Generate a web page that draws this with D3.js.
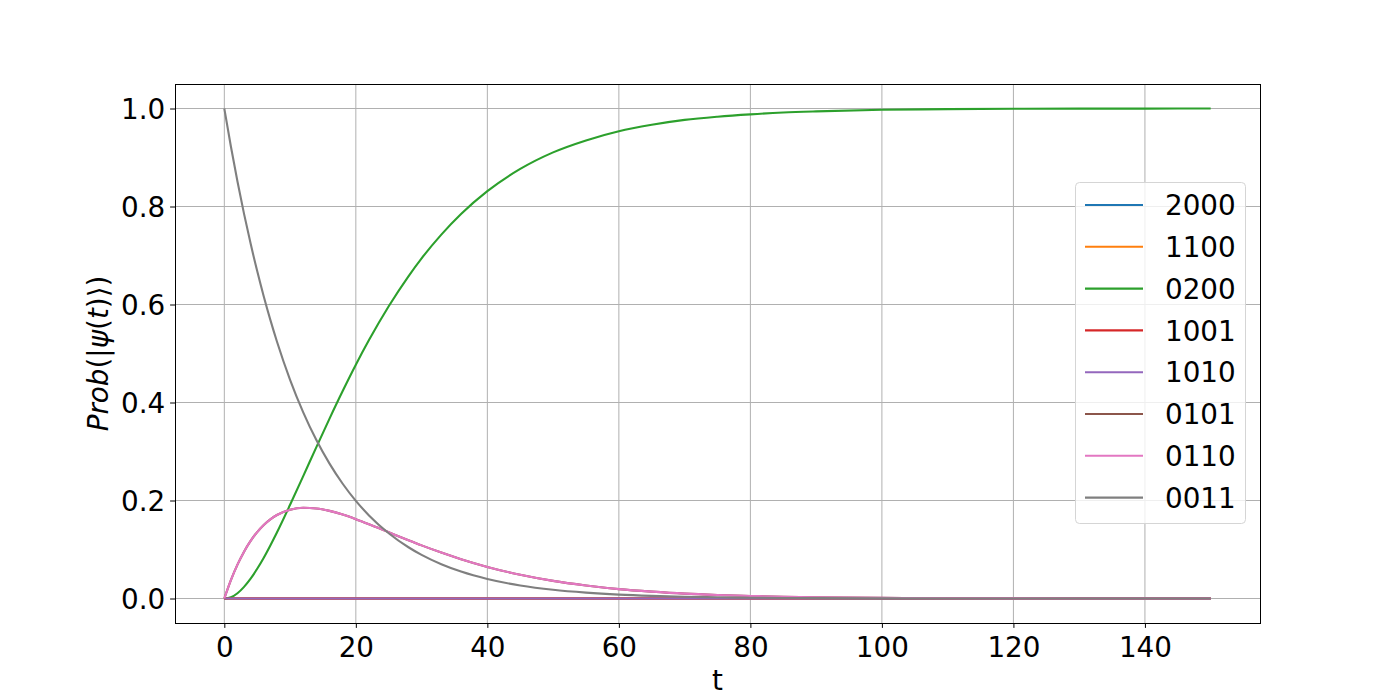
<!DOCTYPE html>
<html><head><meta charset="utf-8">
<script src="https://cdn.jsdelivr.net/npm/d3@7"></script>
<style>body{margin:0;background:#fff;} svg{display:block;font-family:"DejaVu Sans",sans-serif;}</style>
</head><body><svg id="c" width="1400" height="700"></svg>
<script>
const tValues = [0,1,2,3,4,5,6,7,8,10,12,14,16,18,20,22,25,28,30,33,36,40,45,50,55,60,65,70,75,80,85,90,100,110,120,130,140,150];
const p0200 = [0,0.0025,0.0108,0.0238,0.0405,0.0606,0.0832,0.1082,0.1346,0.1912,0.2498,0.309,0.3672,0.4234,0.4771,0.5274,0.5964,0.6576,0.6942,0.7427,0.7847,0.8313,0.8767,0.9105,0.9349,0.9537,0.9667,0.9767,0.9832,0.988,0.9917,0.9941,0.9973,0.9987,0.9994,0.9997,0.9998,0.9999];
const p0101 = [0,0.0375,0.0691,0.0956,0.1176,0.1356,0.1502,0.1616,0.1704,0.1812,0.1851,0.1838,0.1788,0.1712,0.1618,0.1515,0.1352,0.1189,0.1084,0.0937,0.0802,0.0645,0.0484,0.0359,0.0266,0.0192,0.014,0.0099,0.0072,0.0052,0.0036,0.0026,0.0012,0.0006,0.0003,0.0001,0.0001,0];
const p0110 = p0101.slice();
const p0011 = [1,0.9225,0.851,0.785,0.7243,0.6682,0.6164,0.5686,0.5246,0.4464,0.38,0.3234,0.2752,0.2342,0.1993,0.1696,0.1332,0.1046,0.089,0.0699,0.0549,0.0397,0.0265,0.0177,0.0119,0.0079,0.0053,0.0035,0.0024,0.0016,0.0011,0.0007,0.0003,0.0001,0,0,0,0];
const pZero = tValues.map(() => 0);
const seriesNames = ["2000","1100","0200","1001","1010","0101","0110","0011"];
const seriesValues = [pZero, pZero, p0200, pZero, pZero, p0101, p0110, p0011];
const colors = ["#1f77b4","#ff7f0e","#2ca02c","#d62728","#9467bd","#8c564b","#e377c2","#7f7f7f"];
const xTicks = [0,20,40,60,80,100,120,140];
const yTicks = [0,0.2,0.4,0.6,0.8,1.0];

const svg = d3.select("#c");
const L=175, R=1260, T=84, B=623;
const x = d3.scaleLinear().domain([-7.5,157.5]).range([L,R]);
const y = d3.scaleLinear().domain([-0.05,1.05]).range([B,T]);
const fs = "27.8px";

// grid
const g = svg.append("g");
g.selectAll(".gx").data(xTicks).enter().append("line")
  .attr("x1",d=>x(d)).attr("x2",d=>x(d)).attr("y1",T).attr("y2",B)
  .attr("stroke","#b0b0b0").attr("stroke-width",1);
g.selectAll(".gy").data(yTicks).enter().append("line")
  .attr("y1",d=>y(d)).attr("y2",d=>y(d)).attr("x1",L).attr("x2",R)
  .attr("stroke","#b0b0b0").attr("stroke-width",1);

// lines
const line = d3.line().x((d,i)=>x(tValues[i])).y(d=>y(d)).curve(d3.curveMonotoneX);
seriesValues.forEach((vals,k)=>{
  svg.append("path").attr("d",line(vals)).attr("fill","none")
    .attr("stroke",colors[k]).attr("stroke-width",2.1);
});

// axes
const xAxis = d3.axisBottom(x).tickValues(xTicks).tickFormat(d3.format("d")).tickSize(4.9).tickPadding(4.9);
const yAxis = d3.axisLeft(y).tickValues(yTicks).tickFormat(d3.format(".1f")).tickSize(4.9).tickPadding(4.9);
const ax = svg.append("g").attr("transform",`translate(0,${B})`).call(xAxis);
const ay = svg.append("g").attr("transform",`translate(${L},0)`).call(yAxis);
[ax,ay].forEach(a=>{
  a.select(".domain").remove();
  a.selectAll("line").attr("stroke","#000").attr("stroke-width",1);
  a.selectAll("text").attr("font-size",fs).attr("font-family","DejaVu Sans").attr("fill","#000");
});
ax.selectAll("text").attr("y",33.5).attr("dy",0);
ay.selectAll("text").attr("dy","0.36em");

svg.append("rect").attr("x",L+0.5).attr("y",T+0.5).attr("width",R-L).attr("height",B-T)
  .attr("fill","none").attr("stroke","#000").attr("stroke-width",1).attr("shape-rendering","crispEdges");

// labels
svg.append("text").attr("x",(L+R)/2).attr("y",690).attr("text-anchor","middle")
  .attr("font-size",fs).text("t");
const yl = svg.append("text").attr("transform",`translate(108,${(T+B)/2}) rotate(-90)`)
  .attr("text-anchor","middle").attr("font-size",fs);
[["Prob",true],["(|",false],["ψ",true],["(",false],["t",true],[")⟩)",false]].forEach(([s,it])=>{
  yl.append("tspan").attr("font-style",it?"italic":"normal").text(s);
});

// legend
const lg = svg.append("g");
lg.append("rect").attr("x",1075.5).attr("y",182.5).attr("width",170).attr("height",341)
  .attr("rx",4).attr("fill","#fff").attr("fill-opacity",0.8).attr("stroke","#d5d5d5").attr("stroke-width",1);
seriesNames.forEach((n,k)=>{
  const yy = 205 + k*41.8;
  lg.append("line").attr("x1",1085).attr("x2",1143).attr("y1",yy).attr("y2",yy)
    .attr("stroke",colors[k]).attr("stroke-width",2.1);
  lg.append("text").attr("x",1165).attr("y",yy+10.2).attr("font-size",fs).text(n);
});
</script></body></html>
